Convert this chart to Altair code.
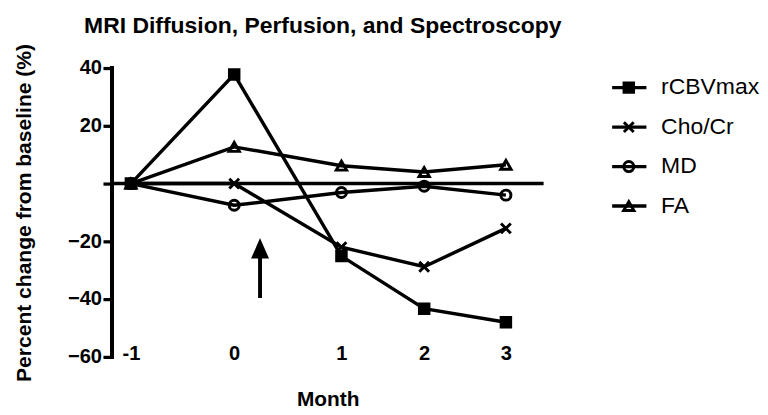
import altair as alt
import pandas as pd

# ---- data ----
month_labels = ["-1", "0", "1", "2", "3"]
month_pos = [-1.0, 0.0, 1.038, 1.839, 2.630]
series_names = ["rCBVmax", "Cho/Cr", "MD", "FA"]
rcbv = [0, 37.8, -25.1, -43.3, -48.0]
chocr = [0, 0, -22.0, -28.8, -15.5]
md = [0, -7.5, -3.1, -0.9, -4.0]
fa = [0, 12.7, 6.2, 4.0, 6.5]
y_ticks = [-60, -40, -20, 0, 20, 40]
arrow_x = [0.25]
arrow_tail = [-39.6]
arrow_head = [-22.4]

# ---- styles ----
FONT = "Liberation Sans"
shapes = ["square", "M-1,-1L1,1M-1,1L1,-1", "circle", "triangle-up"]
fills = ["black", "transparent", "transparent", "transparent"]
sizes = [95, 110, 150, 170]
HEAD = "M0,-1L0.87,1L-0.87,1Z"
LW = 3.5

rows = []
for name, vals in zip(series_names, [rcbv, chocr, md, fa]):
    for x, v in zip(month_pos, vals):
        rows.append({"series": name, "month": x, "value": v})
df = pd.DataFrame(rows)

expr = ""
for v, l in zip(month_pos, month_labels):
    expr += f"abs(datum.value - ({v})) < 0.001 ? '{l}' : "
expr += "''"

xscale = alt.Scale(domain=[-1.185, 2.995], nice=False, zero=False)
yscale = alt.Scale(domain=[y_ticks[0], y_ticks[-1]], nice=False, zero=False)

xaxis = alt.Axis(values=month_pos, labelExpr=expr, domain=False, ticks=False, grid=False,
                 labelFontSize=20.5, labelFontWeight="bold", labelPadding=-13, labelColor="black",
                 labelFont=FONT, titleFont=FONT,
                 titleFontSize=21.3, titleFontWeight="bold", titlePadding=25,
                 titleColor="black")
yaxis = alt.Axis(values=y_ticks, labelExpr="datum.value == 0 ? '' : datum.label", grid=False,
                 domain=False, tickWidth=3.3, tickSize=9, tickColor="black",
                 labelFontSize=20.5, labelFontWeight="bold", labelPadding=1.5, labelColor="black",
                 labelFont=FONT, titleFont=FONT,
                 titleFontSize=21.5, titleFontWeight="bold", titlePadding=33,
                 titleColor="black")

X = alt.X("month:Q", scale=xscale, axis=xaxis, title="Month")
Y = alt.Y("value:Q", scale=yscale, axis=yaxis, title="Percent change from baseline (%)")

shape_enc = alt.Shape("series:N", scale=alt.Scale(domain=series_names, range=shapes), legend=None)
fill_enc = alt.Fill("series:N", scale=alt.Scale(domain=series_names, range=fills), legend=None)
size_enc = alt.Size("series:N", scale=alt.Scale(domain=series_names, range=sizes), legend=None)

lines = alt.Chart(df).mark_line(strokeWidth=LW, color="black").encode(
    x=X, y=Y, detail="series:N")

# y-axis line drawn as a rule along the left edge of the plot
yline = alt.Chart(df).mark_rule(strokeWidth=3.3, color="black", strokeCap="square").encode(
    x=alt.value(0), y=alt.datum(y_ticks[0]), y2=alt.datum(y_ticks[-1]))

zero = alt.Chart(pd.DataFrame({"z": [0]})).mark_rule(strokeWidth=LW, color="black").encode(
    y=alt.Y("z:Q", scale=yscale))

points = alt.Chart(df).mark_point(strokeWidth=3, stroke="black", opacity=1, fillOpacity=1).encode(
    x=X, y=Y, shape=shape_enc, fill=fill_enc, size=size_enc)

adf = pd.DataFrame({"x": arrow_x, "y": arrow_tail, "y2": arrow_head})
arrow_shaft = alt.Chart(adf).mark_rule(strokeWidth=4, color="black").encode(
    x=alt.X("x:Q", scale=xscale), y=alt.Y("y:Q", scale=yscale), y2="y2:Q")
arrow_tip = alt.Chart(adf).mark_point(shape=HEAD, size=441, filled=True, color="black",
                                      opacity=1).encode(
    x=alt.X("x:Q", scale=xscale), y=alt.Y("y2:Q", scale=yscale))

main = alt.layer(lines, yline, zero, points, arrow_shaft, arrow_tip).properties(width=441, height=295)

# ---- legend panel ----
legend_rank = list(range(len(series_names)))
ldf = pd.DataFrame({"series": series_names, "rank": legend_rank})
LY = alt.Y("rank:Q", scale=alt.Scale(domain=[-0.496, 6.82], reverse=True, nice=False, zero=False),
           axis=None)
leg_line = alt.Chart(ldf).mark_rule(strokeWidth=LW, color="black").encode(
    x=alt.value(0), x2=alt.value(35), y=LY)
leg_pt = alt.Chart(ldf).mark_point(strokeWidth=3, stroke="black", opacity=1, fillOpacity=1).encode(
    x=alt.value(17), y=LY, shape=shape_enc, fill=fill_enc, size=size_enc)
leg_txt = alt.Chart(ldf).mark_text(align="left", baseline="middle", fontSize=23.4, font=FONT,
                                   color="black").encode(
    x=alt.value(50), y=LY, text="series:N")
legend = alt.layer(leg_line, leg_pt, leg_txt).properties(width=100, height=295)

chart = alt.hconcat(main, legend, spacing=66).properties(
    padding={"left": 5, "top": 2, "right": 0, "bottom": 0},
    title=alt.TitleParams("MRI Diffusion, Perfusion, and Spectroscopy", fontSize=23.4,
                          fontWeight="bold", font=FONT, anchor="start", dx=72, offset=5,
                          color="black"),
).configure(font=FONT).configure_view(stroke=None, strokeWidth=0)

chart.save("out.html", embed_options={"renderer": "svg", "actions": False})
